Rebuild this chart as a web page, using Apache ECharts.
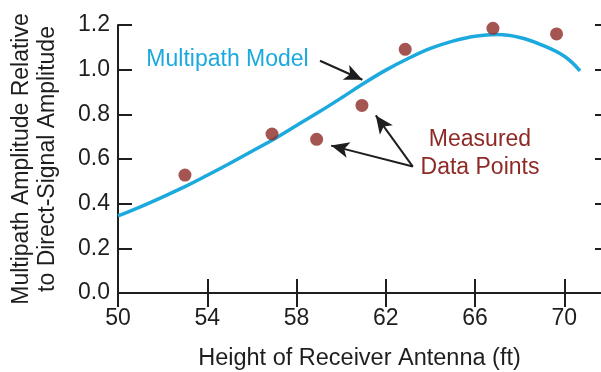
<!DOCTYPE html>
<html>
<head>
<meta charset="utf-8">
<script src="https://cdn.jsdelivr.net/npm/echarts@6/dist/echarts.min.js"></script>
<style>
html,body{margin:0;padding:0;background:#fff;}
#c{width:601px;height:372px;}
</style>
</head>
<body>
<div id="c"></div>
<script>
// Model curve: [height ft, amplitude ratio]
const modelX = [50, 51, 52, 53, 54, 55, 56, 57, 58, 59, 60, 61, 62, 63, 64, 65, 66, 67, 68, 69, 70, 70.7];
const modelY = [0.345, 0.386, 0.43, 0.476, 0.527, 0.58, 0.635, 0.69, 0.75, 0.81, 0.873, 0.938, 0.998, 1.05, 1.095, 1.128, 1.15, 1.157, 1.144, 1.11, 1.06, 0.995];
// Measured data points
const measX = [53.0, 56.9, 58.9, 60.93, 62.87, 66.8, 69.65];
const measY = [0.528, 0.712, 0.688, 0.84, 1.091, 1.185, 1.16];
// Axis ticks
const xTicks = [50, 54, 58, 62, 66, 70];
const yTicks = [0.0, 0.2, 0.4, 0.6, 0.8, 1.0, 1.2];

const FONT = '"Liberation Sans", Arial, Helvetica, sans-serif';
const INK = '#1e1e1e';
const CYAN = '#1ba9de';
const RED = '#8e2a26';

const chart = echarts.init(document.getElementById('c'), null, {renderer: 'canvas'});

const axisLineStyle = {show: true, lineStyle: {color: INK, width: 2}};
const tickStyle = {show: true, inside: true, length: 14, lineStyle: {color: INK, width: 2}};

const option = {
  animation: false,
  backgroundColor: '#ffffff',
  grid: {left: 118, top: 25, width: 491, height: 268, containLabel: false, outerBoundsMode: 'none'},
  xAxis: [{
    type: 'value', min: xTicks[0], max: 72, interval: 4, position: 'bottom',
    axisLine: axisLineStyle, axisTick: tickStyle, splitLine: {show: false},
    axisLabel: {margin: 14, color: INK, fontSize: 23, fontFamily: FONT, showMaxLabel: false,
      formatter: v => xTicks.indexOf(v) >= 0 ? String(v) : ''},
    name: 'Height of Receiver Antenna (ft)', nameLocation: 'middle', nameGap: 54,
    nameTextStyle: {color: INK, fontSize: 23.5, fontFamily: FONT, padding: [0, 8, 0, 0]}
  }, {
    type: 'value', min: xTicks[0], max: 72, interval: 4, position: 'top',
    axisLine: axisLineStyle, axisTick: tickStyle, splitLine: {show: false},
    axisLabel: {show: false}
  }],
  yAxis: [{
    type: 'value', min: yTicks[0], max: yTicks[yTicks.length - 1], interval: 0.2, position: 'left',
    axisLine: axisLineStyle, axisTick: tickStyle, splitLine: {show: false},
    axisLabel: {margin: 8, color: INK, fontSize: 23, fontFamily: FONT, formatter: v => v.toFixed(1)},
    name: 'Multipath Amplitude Relative\nto Direct-Signal Amplitude', nameLocation: 'middle', nameGap: 57,
    nameRotate: 90,
    nameTextStyle: {color: INK, fontSize: 23, fontFamily: FONT, lineHeight: 26}
  }, {
    type: 'value', min: yTicks[0], max: yTicks[yTicks.length - 1], interval: 0.2, position: 'right',
    axisLine: axisLineStyle, axisTick: tickStyle, splitLine: {show: false},
    axisLabel: {show: false}
  }],
  series: [{
    type: 'line', name: 'Multipath Model', smooth: 0.4, showSymbol: false, symbol: 'none',
    data: modelX.map((x, i) => [x, modelY[i]]),
    lineStyle: {color: CYAN, width: 3.5}, z: 2,
    markLine: {
      silent: true, symbol: ['none', 'arrow'], symbolSize: [12, 18],
      lineStyle: {color: INK, width: 2, type: 'solid'}, label: {show: false},
      data: [
        [{coord: [59.05, 1.04]}, {coord: [60.95, 0.955]}],
        [{coord: [63.21, 0.566]}, {coord: [61.55, 0.795]}],
        [{coord: [63.21, 0.566]}, {coord: [59.55, 0.66]}]
      ]
    }
  }, {
    type: 'scatter', name: 'Measured Data Points', symbol: 'circle', symbolSize: 13,
    data: measX.map((x, i) => [x, measY[i]]),
    itemStyle: {color: RED}, z: 3
  }]
};
chart.setOption(option);

function placeText() {
  const p1 = chart.convertToPixel({gridIndex: 0}, [51.27, 1.043]);
  const p2 = chart.convertToPixel({gridIndex: 0}, [66.22, 0.685]);
  const p3 = chart.convertToPixel({gridIndex: 0}, [66.22, 0.56]);
  chart.setOption({graphic: [
    {type: 'text', x: p1[0], y: p1[1], z: 10,
      style: {text: 'Multipath Model', fill: CYAN, font: '23px ' + FONT, textAlign: 'left', textVerticalAlign: 'middle'}},
    {type: 'text', x: p2[0], y: p2[1], z: 10,
      style: {text: 'Measured', fill: RED, font: '23px ' + FONT, textAlign: 'center', textVerticalAlign: 'middle'}},
    {type: 'text', x: p3[0], y: p3[1], z: 10,
      style: {text: 'Data Points', fill: RED, font: '23px ' + FONT, textAlign: 'center', textVerticalAlign: 'middle'}}
  ]});
}
placeText();
</script>
</body>
</html>
